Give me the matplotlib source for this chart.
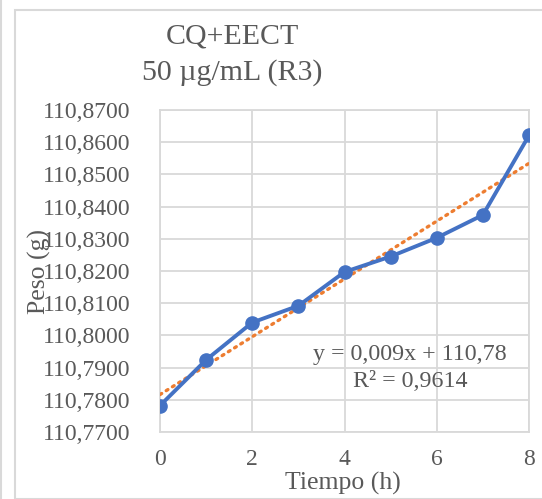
import numpy as np
import matplotlib
matplotlib.use('Agg')
import matplotlib.pyplot as plt
from matplotlib.patches import Rectangle
from matplotlib.ticker import FuncFormatter

# datos
tiempo = [0, 1, 2, 3, 4, 5, 6, 7, 8]
peso = [110.7782, 110.7924, 110.8040, 110.8092, 110.8197, 110.8245, 110.8303, 110.8374, 110.8621]
y_ticks = [110.77, 110.78, 110.79, 110.80, 110.81, 110.82, 110.83, 110.84, 110.85, 110.86, 110.87]
x_ticks = [0, 2, 4, 6, 8]

plt.rcParams['font.family'] = ['Liberation Serif', 'DejaVu Serif']
gris = '#595959'
W, H = 542, 499

fig = plt.figure(figsize=(W/100, H/100), dpi=100)
ax = fig.add_axes([160/W, 1-432/H, 369/W, 322/H])

# borde del area del grafico
fig.patches.append(Rectangle((15/W, 0), 1, 1-9.5/H, transform=fig.transFigure,
                             fill=False, edgecolor='#d9d9d9', lw=1.5, clip_on=False))
fig.patches.append(Rectangle((0.5/W, 0), 0, 1, transform=fig.transFigure,
                             fill=False, edgecolor='#d9d9d9', lw=1.5, clip_on=False))

# linea de tendencia
m, b = np.polyfit(tiempo, peso, 1)
xs = np.array([tiempo[0], tiempo[-1]])
ax.plot(xs, m*xs + b, linestyle=(0, (0.6, 1.6)), color='#ED7D31', lw=2.4,
        dash_capstyle='round', zorder=3)

ax.plot(tiempo, peso, color='#4472C4', lw=2.8, marker='o', markersize=9.5, zorder=4)

ax.set_xlim(0, 8)
ax.set_ylim(110.77, 110.87)
ax.set_xticks(x_ticks)
ax.set_yticks(y_ticks)
ax.yaxis.set_major_formatter(FuncFormatter(lambda v, p: f'{v:.4f}'.replace('.', ',')))
ax.grid(True, color='#d9d9d9', lw=1.3)
ax.set_axisbelow(True)
for s in ax.spines.values():
    s.set_color('#d9d9d9')
    s.set_linewidth(1.3)
ax.tick_params(length=0, labelsize=17, colors=gris)
ax.tick_params(axis='y', pad=21)
ax.tick_params(axis='x', pad=12)

fig.text(343/W, 1-490/H, 'Tiempo (h)', ha='center', va='baseline', fontsize=18.5, color=gris)
fig.text(39/W, 1-271/H, 'Peso (g)', ha='center', va='center', rotation=90,
         fontsize=18.5, color=gris)

fig.text(232/W, 1-43/H, 'CQ+EECT', ha='center', va='baseline', fontsize=21.5, color=gris)
fig.text(232/W, 1-80/H, '50 µg/mL (R3)', ha='center', va='baseline', fontsize=21.5, color=gris)

ax.text(0.6775, 0.2236, 'y = 0,009x + 110,78', transform=ax.transAxes,
        ha='center', va='baseline', fontsize=17.3, color=gris)
ax.text(0.6775, 0.1398, 'R² = 0,9614', transform=ax.transAxes,
        ha='center', va='baseline', fontsize=17.3, color=gris)

fig.savefig('out.png', dpi=100)
